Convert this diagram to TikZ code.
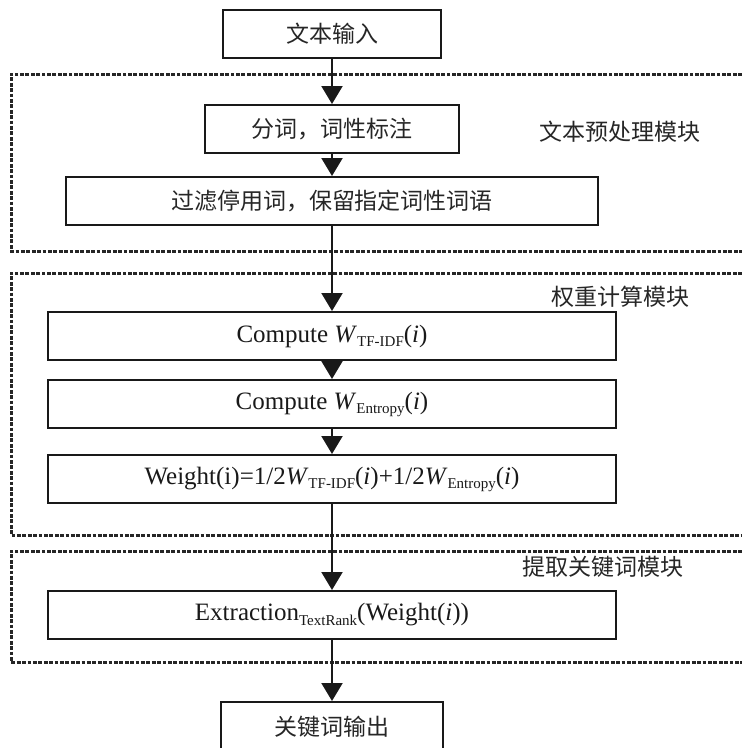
\documentclass[tikz,border=0pt]{standalone}
\usepackage{fontspec}
\setmainfont{Liberation Serif}
\newfontfamily\cjk{Noto Sans CJK SC}
\usetikzlibrary{arrows.meta}
\newcommand{\sbs}[1]{\raisebox{-0.35ex}{\fontsize{15}{15}\selectfont #1}}
\begin{document}
\begin{tikzpicture}[x=1pt,y=-1pt,
  stepbox/.style={draw=black!90, line width=2pt, minimum height=48pt, inner sep=0pt, fill=white},
  cjktext/.style={font=\cjk\fontsize{23}{26}\selectfont, text=black!85},
  lattext/.style={font=\fontsize{25}{28}\selectfont, text=black!90},
  arr/.style={line width=2pt, draw=black!90, -{Triangle[width=21pt,length=18pt]}},
  frame/.style={line width=3pt, draw=black!85, dash pattern=on 3.8pt off 1.6pt}]
\useasboundingbox (0,0) rectangle (742,748);
\clip (0,0) rectangle (742,748);
\fill[white] (0,0) rectangle (742,748);
% module frames (open on the right)
\draw[frame] (742,74) -- (11,74) -- (11,251) -- (742,251);
\draw[frame] (742,273) -- (11,273) -- (11,535) -- (742,535);
\draw[frame] (742,551) -- (11,551) -- (11,662) -- (742,662);
% boxes
\node[stepbox, cjktext, minimum width=218pt] (b1) at (332,34) {文本输入};
\node[stepbox, cjktext, minimum width=254pt] (b2) at (332,129) {分词，词性标注};
\node[stepbox, cjktext, minimum width=532pt] (b3) at (332,201) {过滤停用词，保留指定词性词语};
\node[stepbox, lattext, minimum width=568pt] (b4) at (332,336) {Compute \textit{W}\sbs{TF-IDF}(\textit{i})};
\node[stepbox, lattext, minimum width=568pt] (b5) at (332,404) {Compute \textit{W}\sbs{Entropy}(\textit{i})};
\node[stepbox, lattext, minimum width=568pt] (b6) at (332,479) {Weight(i)=1/2\textit{W}\sbs{TF-IDF}(\textit{i})+1/2\textit{W}\sbs{Entropy}(\textit{i})};
\node[stepbox, lattext, minimum width=568pt] (b7) at (332,615) {Extraction\sbs{TextRank}(Weight(\textit{i}))};
\node[stepbox, cjktext, minimum width=222pt, minimum height=52pt] (b8) at (332,728) {\raisebox{5pt}{关键词输出}};
% module labels
\node[cjktext] (l1) at (620,132) {文本预处理模块};
\node[cjktext] (l2) at (620,297) {权重计算模块};
\node[cjktext] (l3) at (603,567) {提取关键词模块};
% connectors
\draw[arr] (b1.south) -- (b2.north);
\draw[arr] (b2.south) -- (b3.north);
\draw[arr] (b3.south) -- (b4.north);
\draw[arr] (b4.south) -- (b5.north);
\draw[arr] (b5.south) -- (b6.north);
\draw[arr] (b6.south) -- (b7.north);
\draw[arr] (b7.south) -- (b8.north);
\end{tikzpicture}
\end{document}
